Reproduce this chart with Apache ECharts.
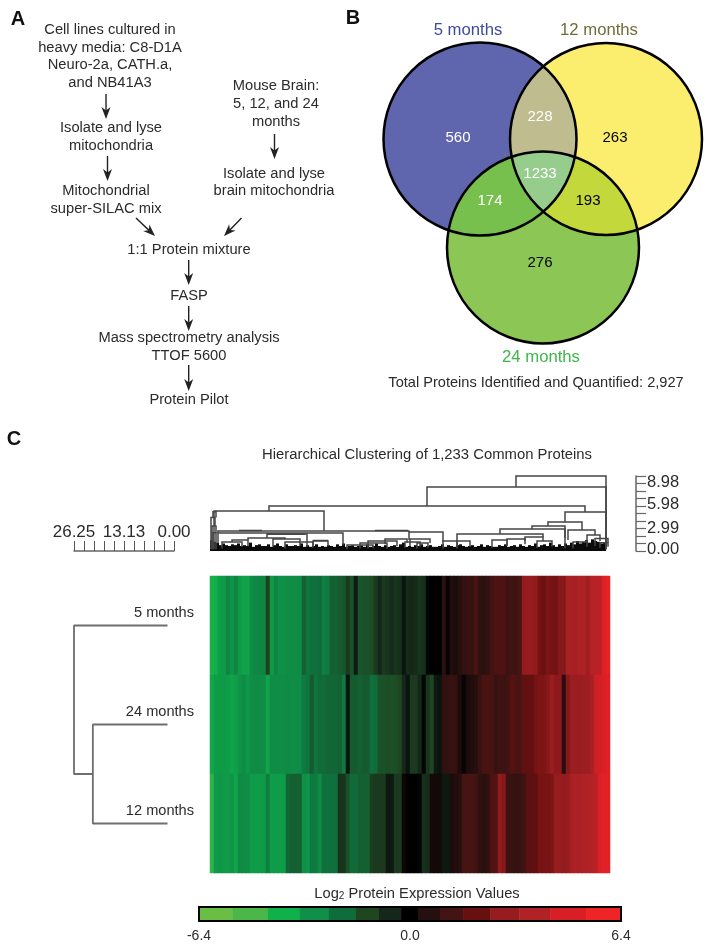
<!DOCTYPE html>
<html><head><meta charset="utf-8">
<style>html,body{margin:0;padding:0;background:#fff}#c{width:714px;height:951px}</style>
<script src="https://cdn.jsdelivr.net/npm/echarts@6/dist/echarts.min.js"></script>
</head><body><div id="c"></div>
<script>
// ---------- data ----------
const rowNames = ['5 months','24 months','12 months'];
const row5 = [-3.95,-3.8,-3.3,-3.2,-2.65,-3.05,-2.65,-3.2,-3.45,-3.45,-2.8,-2.7,-2.65,-2.65,-1.2,-3.2,-2.65,-2.9,-2.9,-2.85,-2.85,-2.85,-2.8,-1.8,-2.25,-2.15,-2.15,-2.0,-2.5,-2.4,-1.8,-1.8,-1.7,-1.6,-1.0,-1.5,-0.4,-1.6,-1.5,-1.5,-1.4,-1.0,-0.6,-1.0,-0.9,-0.7,-0.9,-0.8,-0.3,-0.7,-0.6,-0.7,-0.9,-0.8,-0.1,0,0,0,0.7,0.1,0.5,0.4,0.6,0.9,1.0,1.0,1.4,0.8,0.7,0.9,1.2,1.5,1.5,1.5,1.1,1.2,1.1,1.3,2.8,2.9,2.9,2.8,2.2,2.1,2.4,2.3,2.2,2.6,2.6,3.5,3.5,3.4,3.6,3.7,3.2,3.9,4.0,4.0,5.0,5.4];
const row24 = [-3.55,-3.25,-3.2,-3.2,-3.25,-3.45,-3.35,-3.0,-2.85,-3.1,-2.85,-2.8,-2.8,-2.85,-3.45,-2.85,-2.85,-2.85,-2.85,-2.8,-2.85,-2.85,-2.8,-2.4,-2.25,-1.7,-2.25,-2.0,-2.05,-1.9,-1.9,-1.9,-1.8,-2.4,-0.3,-1.7,-1.7,-1.8,-1.7,-1.7,-2.15,-2.0,-1.5,-1.5,-1.4,-1.5,-1.4,-1.3,-0.6,-0.3,-1.0,-1.0,-0.6,-0.1,-0.9,-1.3,-0.4,-0.3,0.8,0.9,1.0,0.9,0.4,0.1,0.4,0.5,0.6,1.0,1.4,1.4,1.3,1.0,1.1,1.1,1.2,1.7,1.5,1.3,1.9,1.9,1.9,2.3,2.4,2.4,2.6,3.0,2.7,2.7,0.6,2.6,3.0,3.0,3.0,3.1,3.1,3.4,4.5,4.7,4.9,5.1];
const row12 = [-4.35,-3.2,-3.1,-3.2,-3.2,-3.05,-3.45,-2.8,-2.8,-2.85,-3.25,-3.25,-3.25,-3.2,-2.5,-3.25,-3.25,-3.25,-3.25,-1.9,-1.8,-1.8,-1.8,-2.9,-3.05,-2.4,-2.4,-2.8,-2.15,-2.2,-2.15,-2.15,-0.9,-0.9,-1.5,-2.0,-2.0,-1.8,-1.8,-1.8,-1.1,-1.0,-1.0,-1.0,-0.4,-0.4,-1.0,-1.0,0.2,0,0,0,-0.1,-0.8,-0.7,0.3,0.3,0.3,-0.4,-0.4,0.4,0.5,0.6,1.3,1.3,1.3,1.2,0.8,0.7,0.8,1.5,1.6,2.8,2.6,1.1,1.0,0.9,1.0,1.1,1.8,1.8,1.9,2.3,2.3,2.3,2.4,2.9,2.9,2.8,2.9,3.5,3.6,3.6,3.7,3.8,3.8,4.0,5.0,5.2,5.2];

const barEdges = [-6.4,-5.37,-4.31,-3.34,-2.46,-1.64,-0.94,-0.27,0.24,0.91,1.61,2.43,3.31,4.25,5.34,6.4];
const barColors = ['#6abd45','#4bb749','#10b04b','#0f8f47','#0f6c3b','#1f4621','#14271a','#000000','#260f0f','#431413','#680f10','#961c1f','#b02226','#d91f26','#ee2426'];

// column dendrogram: [left leaf, right leaf, merge height, left child height, right child height]
const colLinks = [
 [306,396,8.98,7.66,0.2],[217,396,7.66,5.39,0.2],[59,375,5.39,4.79,4.67],[4,114,4.79,0.2,2.40],
 [355,396,4.67,3.47,0.2],[338,372,3.47,2.99,2.51],[322,355,2.99,2.63,1.56],[290,355,2.63,2.04,0.3],
 [247,333,2.04,1.20,1.68],[358,385,2.51,1.32,1.92],[377,390,1.92,1.0,1.2],[8,199,2.40,2.16,2.28],
 [8,133,2.16,1.0,0.7],[199,233,2.28,1.32,1.08],[57,97,2.04,1.56,0.5],[38,75,1.56,1.32,1.44],
 [22,38,1.32,1.08,0.6],[12,32,1.08,0.3,0.5],[63,90,1.44,0.5,0.6],[103,118,1.2,0.5,0.6],
 [75,103,1.08,0.3,0.4],[137,163,0.72,0.2,0.3],[158,187,1.2,0.3,0.6],[175,197,1.44,0.8,1.0],
 [150,177,0.96,0.3,0.3],[195,210,1.08,0.4,0.5],[200,220,1.44,0.6,0.96],[207,218,0.96,0.3,0.4],
 [233,247,1.2,0.3,0.4],[247,260,1.2,0.3,0.5],[282,297,1.32,0.4,0.6],[297,315,1.44,0.6,1.2],
 [315,333,1.68,0.8,1.2],[327,342,1.2,0.4,0.5],[363,377,1.08,0.3,0.5],[3,6,4.7,4.0,4.0],
 [1,5,4.0,0.2,3.0],[2,6,3.0,0.2,2.2],[3,6,2.2,0.2,0.2],[385,398,1.5,0.6,1.0],[390,398,1.0,0.4,0.5],
 [29,52,2.46,2.46,2.46],[165,198,2.46,2.46,2.46],[57,95,2.0,2.0,2.0],[103,118,1.26,1.26,1.26]
];
// heights of the dense low merges along the column tree, left to right
const colLeafHeights = [1.3,1.1,1.0,0.7,0.9,0.7,0.6,0.8,0.7,0.9,0.6,0.7,0.6,1.0,0.5,0.7,0.8,0.6,0.6,0.8,0.5,0.7,0.9,0.6,0.5,0.8,0.6,0.6,0.7,0.6,0.9,0.5,0.7,0.5,0.6,0.8,0.5,0.6,0.5,0.7,0.6,0.5,0.8,0.6,0.9,0.5,0.6,0.7,0.5,0.6,0.7,0.5,0.8,0.5,0.6,0.9,0.6,0.5,0.7,0.5,0.6,0.7,0.5,0.8,1.0,0.5,0.6,0.5,0.7,0.6,0.8,0.5,0.6,0.7,0.5,0.5,0.6,0.8,0.5,0.7,0.6,0.5,0.7,0.8,0.6,0.5,0.6,0.7,0.5,0.6,0.8,0.5,0.7,0.6,0.5,0.5,0.7,0.6,0.8,0.5,0.6,0.7,0.5,0.8,0.6,0.5,0.7,0.6,0.9,0.5,0.7,0.8,0.6,1.0,0.7,0.5,0.8,0.6,0.9,0.7,1.0,0.8,1.2,0.9,1.1,1.3,1.0,1.4,1.2,1.1,0.9,1.0];
const colAxisLabels = [0,2.99,5.98,8.98];
const colAxisTicks = [0,0.898,1.796,2.694,3.592,4.49,5.388,6.286,7.184,8.082,8.98];
// row dendrogram: [distance, row position]
const rowLinkA = [[1.7,0.5],[26.25,0.5],[26.25,2.0],[21.3,2.0]];
const rowLinkB = [[1.7,1.5],[21.3,1.5],[21.3,2.5],[1.7,2.5]];

const vennRegions = ['5 only','12 only','24 only','5+12','5+24','12+24','all'];
const vennCounts = [560,263,276,228,174,193,1233];

// ---------- layout ----------
const txt = '#2b2b2b';
const font = '"Liberation Sans", Arial, sans-serif';
const vennA={x:480,y:139,r:96.5}, vennB={x:606,y:139,r:96}, vennC={x:543,y:247.5,r:96};
const vennFill=['#6066ae','#fbee6e','#8cc655','#bfbc8f','#78c04e','#c2d83b','#96cd8c'];
const vennLabelPos=[[458,138],[615,138],[540,263],[540,117],[490,201],[588,201],[540,174]];
const vennLabelCol=['#fff','#000','#000','#fff','#fff','#000','#fff'];
const colLabelNudge=[-2,2,3,6];

const flowText=[
 ['Cell lines cultured in',110,29.5],['heavy media: C8-D1A',110,47.5],['Neuro-2a, CATH.a,',110,65],['and NB41A3',110,82.5],
 ['Isolate and lyse',111,128],['mitochondria',111,145.5],['Mitochondrial',106,190.5],['super-SILAC mix',106,208.5],
 ['Mouse Brain:',276,86],['5, 12, and 24',276,104],['months',276,121.5],['Isolate and lyse',274,173.5],['brain mitochondria',274,191],
 ['1:1 Protein mixture',189,249.5],['FASP',189,296],['Mass spectrometry analysis',189,338],['TTOF 5600',189,356],['Protein Pilot',189,400]
];
const flowArrows=[
 [106,94,106,119],[107.5,156,107.5,181],[136,218,155,236],[274.5,134,274.5,159],[241.5,218,224,236],
 [188.7,260,188.7,285],[188.7,306,188.7,331],[188.7,365,188.7,391]
];
function arrow(a){
 const [x0,y0,x1,y1]=a, L=Math.hypot(x1-x0,y1-y0), ux=(x1-x0)/L, uy=(y1-y0)/L, px=-uy, py=ux;
 const P=(b,s)=>[x1-ux*b+px*s, y1-uy*b+py*s];
 return [
  {type:'line',shape:{x1:x0,y1:y0,x2:x1-ux*6,y2:y1-uy*6},style:{stroke:'#222',lineWidth:1.4}},
  {type:'polygon',shape:{points:[[x1,y1],P(12,4.5),P(8.5,0),P(12,-4.5)]},style:{fill:'#222'}}
 ];
}
function T(text,x,y,size,extra){
 return {type:'text',x,y,style:Object.assign({text,fontSize:size,fontFamily:font,fill:txt,align:'center',verticalAlign:'middle'},extra||{})};
}
const graphic=[
 T('A',18,19.5,20,{fontWeight:'bold',fill:'#111'}),
 T('B',353,18.5,20,{fontWeight:'bold',fill:'#111'}),
 T('C',14,439,20,{fontWeight:'bold',fill:'#111'}),
 ...flowText.map(f=>T(f[0],f[1],f[2],14.7)),
 ...flowArrows.flatMap(arrow),
 T('5 months',468,30,16.7,{fill:'#3f4a9e'}),
 T('12 months',599,30,16.7,{fill:'#6d6d3b'}),
 T('24 months',541,357,16.7,{fill:'#3fb54a'}),
 T('Total Proteins Identified and Quantified: 2,927',536,383,14.6),
 T('Hierarchical Clustering of 1,233 Common Proteins',427,454.5,14.85),
 {type:'text',x:417,y:894,style:{text:'{a|Log}{b|2}{a| Protein Expression Values}',align:'center',verticalAlign:'middle',
   rich:{a:{fontSize:14.7,fontFamily:font,fill:txt},b:{fontSize:10,fontFamily:font,fill:txt,verticalAlign:'bottom',padding:[5,0,0,0]}}}}
];

// colour scale shared by the bar and the heat map
function hex(c){return [1,3,5].map(i=>parseInt(c.slice(i,i+2),16));}
const centers=barEdges.slice(0,-1).map((e,i)=>(e+barEdges[i+1])/2);
function colorAt(v){
 if(v<=centers[0])return barColors[0];
 for(let i=0;i<centers.length-1;i++){
  if(v<=centers[i+1]){
   const t=(v-centers[i])/(centers[i+1]-centers[i]),a=hex(barColors[i]),b=hex(barColors[i+1]);
   return 'rgb('+a.map((q,k)=>Math.round(q+(b[k]-q)*t)).join(',')+')';
  }
 }
 return barColors[barColors.length-1];
}
const stops=[];for(let i=0;i<=128;i++)stops.push(colorAt(-6.4+12.8*i/128));

const heatData=[];
[row5,row24,row12].forEach((r,ri)=>r.forEach((v,c)=>heatData.push([c,ri,v])));

function lensPts(a,b){
 const d=Math.hypot(b.x-a.x,b.y-a.y),m=(d*d+a.r*a.r-b.r*b.r)/(2*d),h=Math.sqrt(a.r*a.r-m*m);
 const ux=(b.x-a.x)/d,uy=(b.y-a.y)/d,mx=a.x+ux*m,my=a.y+uy*m;
 return [[mx-uy*h,my+ux*h],[mx+uy*h,my-ux*h]];
}
function lensPath(a,b){
 const [p,q]=lensPts(a,b);
 return `M${p[0]} ${p[1]}A${a.r} ${a.r} 0 0 1 ${q[0]} ${q[1]}A${b.r} ${b.r} 0 0 1 ${p[0]} ${p[1]}Z`;
}
function inner(a,b,c){return lensPts(a,b).find(p=>Math.hypot(p[0]-c.x,p[1]-c.y)<c.r);}
function triplePath(){
 const ab=inner(vennA,vennB,vennC),ac=inner(vennA,vennC,vennB),bc=inner(vennB,vennC,vennA);
 return `M${bc[0]} ${bc[1]}A${vennC.r} ${vennC.r} 0 0 1 ${ac[0]} ${ac[1]}A${vennA.r} ${vennA.r} 0 0 1 ${ab[0]} ${ab[1]}A${vennB.r} ${vennB.r} 0 0 1 ${bc[0]} ${bc[1]}Z`;
}
const vennPaths=[null,null,null,lensPath(vennA,vennB),lensPath(vennA,vennC),lensPath(vennB,vennC),triplePath()];
const vennCircles=[vennA,vennB,vennC];

const axisFont={fontFamily:font,color:txt};
const chart=echarts.init(document.getElementById('c'),null,{renderer:'canvas'});
chart.setOption({
 animation:false,
 backgroundColor:'#fff',
 graphic:{elements:graphic},
 grid:[
  {left:210,width:400,top:476,height:75},
  {left:74,width:100,top:540,height:11},
  {left:74,width:100,top:576,height:297},
  {left:210,width:400,top:576,height:297},
  {left:199,width:422,top:907,height:14}
 ],
 xAxis:[
  {gridIndex:0,type:'value',min:0,max:400,show:false},
  {gridIndex:1,type:'value',min:0,max:26.25,interval:2.625,inverse:true,position:'bottom',
   axisLine:{show:true,onZero:false,lineStyle:{color:'#666',width:1.5}},
   axisTick:{show:true,inside:true,length:10,lineStyle:{color:'#555',width:1}},
   splitLine:{show:false},
   axisLabel:{inside:true,margin:10,fontSize:17,hideOverlap:false,showMinLabel:true,showMaxLabel:true,...axisFont,
     formatter:v=>Math.round(v/2.625)%5===0?v.toFixed(2):''}},
  {gridIndex:2,type:'value',min:0,max:26.25,inverse:true,show:false},
  {gridIndex:3,type:'category',data:row5.map((_,i)=>i),show:false},
  {gridIndex:4,type:'value',min:-6.4,max:6.4,interval:6.4,
   axisLine:{show:false},axisTick:{show:false},splitLine:{show:false},
   axisLabel:{fontSize:14,margin:8,showMinLabel:true,showMaxLabel:true,...axisFont,formatter:v=>v.toFixed(1)}}
 ],
 yAxis:[
  {gridIndex:0,type:'value',min:0,max:8.98,position:'right',offset:26,
   axisLine:{show:true,onZero:false,lineStyle:{color:'#666',width:1.5}},
   axisTick:{show:true,length:10,customValues:colAxisTicks,lineStyle:{color:'#666',width:1.2}},
   splitLine:{show:false},
   axisLabel:{show:false}},
  {gridIndex:1,type:'value',min:0,max:1,show:false},
  {gridIndex:2,type:'value',min:0,max:3,inverse:true,show:false},
  {gridIndex:3,type:'category',data:rowNames,inverse:true,
   axisLine:{show:false},axisTick:{show:false},
   axisLabel:{fontSize:14.6,margin:16,...axisFont,verticalAlign:'bottom',padding:[0,0,5,0]}},
  {gridIndex:4,type:'value',min:0,max:1,show:false}
 ],
 visualMap:{type:'continuous',show:false,min:-6.4,max:6.4,dimension:2,seriesIndex:3,inRange:{color:stops}},
 series:[
  {type:'bar',xAxisIndex:0,yAxisIndex:0,barWidth:3,silent:true,
   itemStyle:{color:'#0a0a0a'},
   data:colLeafHeights.map((h,i)=>[1.5+i*3,h])},
  {type:'custom',xAxisIndex:0,yAxisIndex:0,silent:true,z:3,
   data:colLinks,encode:{x:[0,1],y:2},
   renderItem(p,api){
    const l=api.value(0),r=api.value(1),h=api.value(2),hl=api.value(3),hr=api.value(4);
    return {type:'polyline',shape:{points:[api.coord([l,hl]),api.coord([l,h]),api.coord([r,h]),api.coord([r,hr])]},
      style:{stroke:'#454545',lineWidth:1.5,fill:null}};
   }},
  {type:'line',xAxisIndex:2,yAxisIndex:2,symbol:'none',silent:true,lineStyle:{color:'#6e6e6e',width:1.8},data:rowLinkA.concat([[null,null]],rowLinkB),connectNulls:false},
  {type:'heatmap',xAxisIndex:3,yAxisIndex:3,silent:true,progressive:0,data:heatData,itemStyle:{borderWidth:0}},
  {type:'custom',xAxisIndex:4,yAxisIndex:4,silent:true,
   data:barColors.map((c,i)=>[barEdges[i],barEdges[i+1],i]),encode:{x:[0,1]},
   renderItem(p,api){
    const a=api.coord([api.value(0),1]),b=api.coord([api.value(1),0]);
    return {type:'rect',shape:{x:a[0],y:a[1],width:b[0]-a[0]+0.5,height:b[1]-a[1]},style:{fill:barColors[api.value(2)]}};
   }},
  {type:'custom',xAxisIndex:4,yAxisIndex:4,silent:true,z:4,
   data:[[-6.4,6.4]],encode:{x:[0,1]},
   renderItem(p,api){
    const a=api.coord([-6.4,1]),b=api.coord([6.4,0]);
    return {type:'rect',shape:{x:a[0],y:a[1],width:b[0]-a[0],height:b[1]-a[1]},style:{fill:null,stroke:'#000',lineWidth:2}};
   }},
  {type:'custom',coordinateSystem:'none',silent:true,z:5,
   data:vennRegions.map((n,i)=>({name:n,value:[i,vennCounts[i]]})),
   renderItem(p,api){
    const i=api.value(0);
    if(i<3){const c=vennCircles[i];return {type:'circle',shape:{cx:c.x,cy:c.y,r:c.r},style:{fill:vennFill[i]}};}
    return {type:'path',shape:{pathData:vennPaths[i]},style:{fill:vennFill[i]}};
   }},
  {type:'custom',coordinateSystem:'none',silent:true,z:6,
   data:[[0],[1],[2]],
   renderItem(p,api){
    const c=vennCircles[api.value(0)];
    return {type:'circle',shape:{cx:c.x,cy:c.y,r:c.r},style:{fill:null,stroke:'#000',lineWidth:2.5}};
   }},
  {type:'custom',coordinateSystem:'none',silent:true,z:7,
   data:vennRegions.map((n,i)=>({name:n,value:[i,vennCounts[i]]})),
   renderItem(p,api){
    const i=api.value(0);
    return {type:'text',x:vennLabelPos[i][0],y:vennLabelPos[i][1],
      style:{text:String(api.value(1)),fontSize:15,fontFamily:font,fill:vennLabelCol[i],align:'center',verticalAlign:'middle'}};
   }},
  {type:'custom',xAxisIndex:0,yAxisIndex:0,silent:true,clip:false,z:7,
   data:colAxisLabels.map((v,i)=>[400,v,i]),encode:{x:0,y:1},
   renderItem(p,api){
    const c=api.coord([api.value(0),api.value(1)]);
    return {type:'text',x:647,y:c[1]+colLabelNudge[api.value(2)],
      style:{text:api.value(1).toFixed(2),fontSize:16.5,fontFamily:font,fill:txt,align:'left',verticalAlign:'middle'}};
   }}
 ]
});
</script></body></html>
